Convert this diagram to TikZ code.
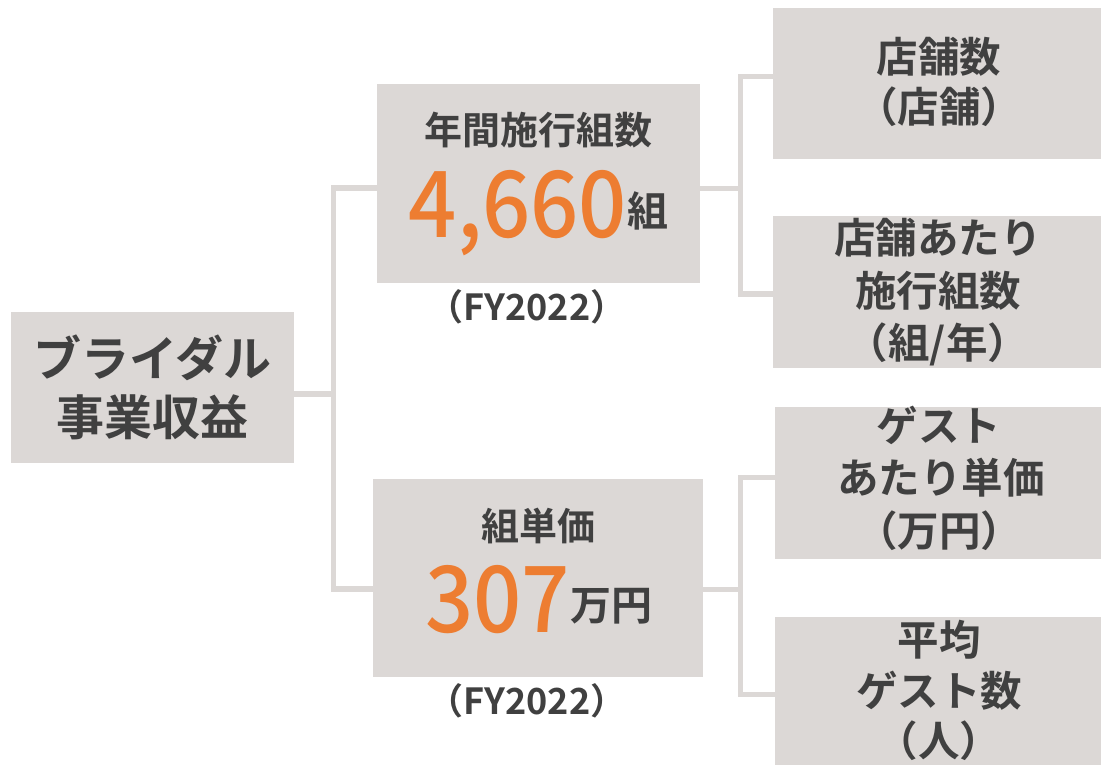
\documentclass[tikz,border=0pt]{standalone}
\usepackage{fontspec}
\newfontfamily\jpb{Noto Sans CJK JP Bold}
\newfontfamily\jpm{Noto Sans CJK JP Medium}[FakeStretch=0.92]
\definecolor{boxc}{RGB}{220,216,214}
\definecolor{txt}{RGB}{64,64,64}
\definecolor{org}{RGB}{237,125,49}
\tikzset{
  box/.style={fill=boxc, draw=none, inner sep=0pt, outer sep=0pt},
  conn/.style={draw=boxc, line width=5.5pt, line join=miter},
  lbl/.style={text=txt, inner sep=0pt, outer sep=0pt, anchor=base},
  fbig/.style={font=\jpb\fontsize{48}{48}\selectfont},
  fmid/.style={font=\jpb\fontsize{38}{38}\selectfont},
  fright/.style={font=\jpb\fontsize{41.5}{41.5}\selectfont},
  fnum/.style={text=org, inner sep=0pt, outer sep=0pt, font=\jpm\fontsize{92}{92}\selectfont},
  funit/.style={font=\jpb\fontsize{41}{41}\selectfont},
  ffy/.style={font=\jpb\fontsize{36}{36}\selectfont},
}
\begin{document}
\begin{tikzpicture}[x=1pt,y=-1pt]
\useasboundingbox (0,0) rectangle (1101,765);
% boxes
\node[box, minimum width=283pt, minimum height=151pt] (L) at (152.5,387.5) {};
\node[box, minimum width=323pt, minimum height=199pt] (T) at (538.5,183.5) {};
\node[box, minimum width=330pt, minimum height=198pt] (B) at (538,578) {};
\node[box, minimum width=328pt, minimum height=151pt] (R1) at (937,83.5) {};
\node[box, minimum width=328pt, minimum height=152pt] (R2) at (937,292) {};
\node[box, minimum width=326pt, minimum height=152pt] (R3) at (938,483) {};
\node[box, minimum width=326pt, minimum height=148pt] (R4) at (938,691) {};
% connectors
\coordinate (jm) at (333.5,394);
\coordinate (ja) at (333.5,188);
\coordinate (jb) at (333.5,589);
\draw[conn] (L.east |- jm) -- (jm);
\draw[conn] (T.west |- ja) -- (ja) -- (jb) -- (B.west |- jb);
\coordinate (ka) at (740.5,76.5);
\coordinate (kb) at (740.5,294);
\coordinate (kc) at (740.5,188.5);
\draw[conn] (R1.west |- ka) -- (ka) -- (kb) -- (R2.west |- kb);
\draw[conn] (T.east |- kc) -- (kc);
\coordinate (la) at (740.5,477.5);
\coordinate (lb) at (740.5,694.5);
\coordinate (lc) at (740.5,589.5);
\draw[conn] (R3.west |- la) -- (la) -- (lb) -- (R4.west |- lb);
\draw[conn] (B.east |- lc) -- (lc);
% left text
\node[lbl, fbig] (L1) at (152.5,376) {ブライダル};
\node[lbl, fbig] (L2) at (152.5,435) {事業収益};
% top middle
\node[lbl, fmid] (T1) at (538.5,144.5) {年間施行組数};
\node[fnum, anchor=base east] (T2) at (627,237) {4,660};
\node[lbl, funit, anchor=base west] (T3) at (627,226) {組};
\node[lbl, ffy] (T4) at (527,320) {（FY2022）};
% bottom middle
\node[lbl, fmid] (B1) at (538,540) {組単価};
\node[fnum, anchor=base east] (B2) at (570,632) {307};
\node[lbl, funit, anchor=base west] (B3) at (570,620) {万円};
\node[lbl, ffy] (B4) at (527,714) {（FY2022）};
% right texts
\node[lbl, fright] (R1a) at (939,73) {店舗数};
\node[lbl, fright] (R1b) at (939,123) {（店舗）};
\node[lbl, fright] (R2a) at (938,253) {店舗あたり};
\node[lbl, fright] (R2b) at (938,306) {施行組数};
\node[lbl, fright] (R2c) at (938,358) {（組/年）};
\node[lbl, fright] (R3a) at (939,441) {ゲスト};
\node[lbl, fright] (R3b) at (941,493) {あたり単価};
\node[lbl, fright] (R3c) at (939,546) {（万円）};
\node[lbl, fright] (R4a) at (939,655) {平均};
\node[lbl, fright] (R4b) at (939,706) {ゲスト数};
\node[lbl, fright] (R4c) at (939,756) {（人）};
\end{tikzpicture}
\end{document}
